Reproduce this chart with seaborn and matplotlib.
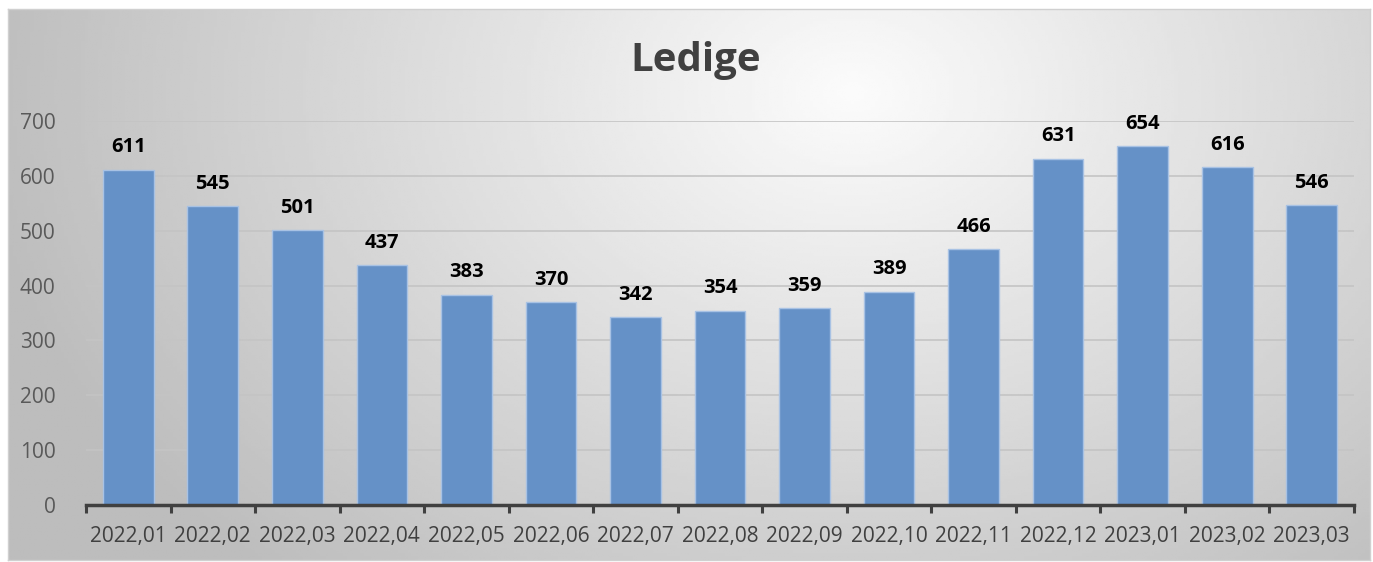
import matplotlib
matplotlib.use("Agg")
import matplotlib.pyplot as plt
import seaborn as sns
import numpy as np
import pandas as pd

# Data
months = ["2022,01", "2022,02", "2022,03", "2022,04", "2022,05", "2022,06", "2022,07",
          "2022,08", "2022,09", "2022,10", "2022,11", "2022,12", "2023,01", "2023,02", "2023,03"]
ledige = [611, 545, 501, 437, 383, 370, 342, 354, 359, 389, 466, 631, 654, 616, 546]
yticks = [0, 100, 200, 300, 400, 500, 600, 700]

df = pd.DataFrame({"month": months, "ledige": ledige})

sns.set_theme(style="white")
plt.rcParams['font.family'] = ['Open Sans', 'DejaVu Sans']

fig = plt.figure(figsize=(13.73, 5.62), dpi=100)
fig.patch.set_facecolor("white")

# Radial gradient background inside the chart frame
bg = fig.add_axes([8 / 1373, 2 / 562, 1362 / 1373, 551 / 562])
gx, gy = np.meshgrid(np.linspace(0, 1, 400), np.linspace(0, 1, 200))
r = np.sqrt(((gx - 0.62) * 1.0) ** 2 + ((gy - 0.15) * 0.55) ** 2)
shade = np.clip(0.985 - 0.38 * r, 0.74, 1.0)
bg.imshow(shade, cmap="gray", vmin=0, vmax=1, aspect="auto", extent=[0, 1, 1, 0])
bg.set_xticks([])
bg.set_yticks([])
for s in bg.spines.values():
    s.set_color("#d0d0d0")
    s.set_linewidth(1)

ax = fig.add_axes([86 / 1373, 57 / 562, 1268 / 1373, 384 / 562])
ax.patch.set_alpha(0)
sns.barplot(data=df, x="month", y="ledige", color="#6591c7", saturation=1,
            width=0.6, edgecolor="#a8c2e4", linewidth=1, ax=ax, zorder=3)

ax.set_ylim(0, 700)
ax.set_xlim(-0.5, len(months) - 0.5)
ax.set_yticks(yticks)
ax.yaxis.grid(True, color="#c4c4c4", linewidth=1.2, zorder=0)
ax.set_axisbelow(True)
ax.set_xlabel("")
ax.set_ylabel("")
for side in ["top", "right", "left"]:
    ax.spines[side].set_visible(False)
ax.spines["bottom"].set_color("#404040")
ax.spines["bottom"].set_linewidth(2.5)
ax.spines["bottom"].set_zorder(4)

ax.tick_params(axis="y", length=0, pad=22, labelsize=15, labelcolor="#595959")
ax.tick_params(axis="x", length=0, pad=15, labelsize=15, labelcolor="#404040")

# tick marks at category boundaries
ax.set_xticks(np.arange(-0.5, len(months)), minor=True)
ax.tick_params(axis="x", which="minor", bottom=True, length=6, width=2.2,
               color="#404040", direction="out")

for i, v in enumerate(ledige):
    ax.annotate(str(v), (i, v), xytext=(0, 9), textcoords="offset points",
                ha="center", va="bottom", fontsize=14.5, fontweight="bold", color="black")

fig.text(696 / 1373, 1 - 60 / 562, "Ledige", ha="center", va="center",
         fontsize=29, fontweight="bold", color="#404040")

fig.savefig("out.png", dpi=100, facecolor=fig.get_facecolor())
